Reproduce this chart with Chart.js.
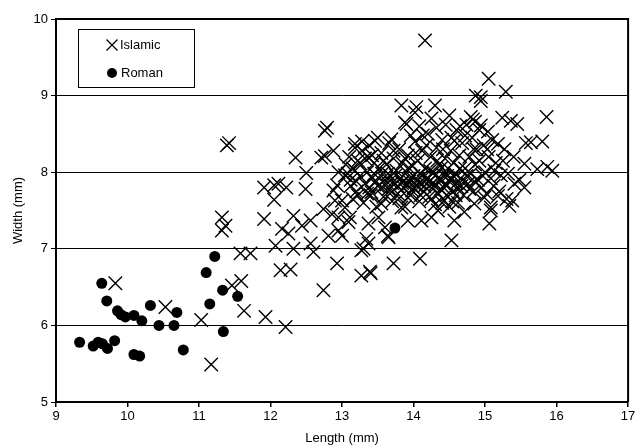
<!DOCTYPE html>
<html>
<head>
<meta charset="utf-8">
<script src="https://cdn.jsdelivr.net/npm/chart.js@4/dist/chart.umd.min.js"></script>
<style>
  html, body { margin: 0; padding: 0; background: #fff; }
  #wrap { width: 639px; height: 448px; }
</style>
</head>
<body>
<div id="wrap"><canvas id="grafico" width="639" height="448"></canvas></div>
<script>
// Roman (filled circles)
var romanLength = [9.33, 9.52, 9.59, 9.65, 9.72, 9.82, 9.64, 9.71, 9.86, 9.91, 9.97, 10.09, 10.20, 10.09, 10.17,
    10.32, 10.44, 10.65, 10.69, 10.78, 11.10, 11.15, 11.33, 11.34, 11.54, 11.22, 13.74];
var romanWidth = [5.78, 5.73, 5.78, 5.76, 5.70, 5.80, 6.55, 6.32, 6.19, 6.14, 6.11, 6.13, 6.06, 5.62, 5.60,
    6.26, 6.00, 6.00, 6.17, 5.68, 6.69, 6.28, 6.46, 5.92, 6.38, 6.90, 7.27];

// Islamic (crosses) - outer points
var islamicLength = [9.83, 10.53, 11.03, 11.17, 11.46, 11.59, 11.63, 11.42, 11.39, 11.32, 11.37, 11.32, 11.58, 11.72,
    11.93, 11.91, 12.05, 12.11, 12.22, 12.05, 11.91, 12.16, 12.25, 12.32, 12.07, 12.32, 12.14, 12.28, 12.35, 12.76,
    12.79, 12.71, 12.88, 12.50, 12.49, 12.44, 12.56, 12.56, 12.60, 12.93, 12.74, 13.27, 13.40, 13.27, 13.30, 13.34,
    12.81, 12.95, 12.86, 12.74, 13.00, 13.04, 13.11, 12.88, 12.93, 12.95, 13.18, 13.46, 13.72, 13.64, 14.16, 15.05,
    15.29, 15.86, 15.57, 15.64, 15.80, 15.94, 15.87, 15.73, 15.55, 15.38, 15.34, 15.08, 15.24, 15.36, 15.45, 15.18,
    15.27, 15.13, 15.22, 15.41, 14.99, 14.94, 14.94, 13.83, 14.04, 14.30, 14.87, 14.94, 14.83, 14.80, 14.86, 14.50,
    14.32, 13.90, 13.69, 14.13, 14.57, 15.04, 14.02, 13.88, 13.18, 13.37, 12.76, 13.04, 12.90, 12.95, 13.09, 13.00,
    13.37, 13.51, 13.41, 13.55, 13.83, 13.92, 13.65, 13.37, 14.53, 15.06, 14.57, 15.08, 14.71, 15.30, 14.85, 15.18,
    14.11, 14.25, 14.34, 14.43, 14.09, 13.39, 13.60, 13.92, 12.21,
    // dense core
    13.05, 13.12, 13.15, 13.20, 13.22, 13.25, 13.28, 13.30, 13.32, 13.35, 13.38, 13.40, 13.42, 13.45, 13.48, 13.50,
    13.52, 13.55, 13.58, 13.60, 13.62, 13.65, 13.66, 13.68, 13.70, 13.72, 13.74, 13.76, 13.78, 13.80, 13.82, 13.84,
    13.86, 13.88, 13.90, 13.92, 13.94, 13.96, 13.98, 14.00, 14.02, 14.04, 14.06, 14.08, 14.10, 14.12, 14.14, 14.16,
    14.18, 14.20, 14.22, 14.24, 14.26, 14.28, 14.30, 14.32, 14.34, 14.36, 14.38, 14.40, 14.42, 14.44, 14.46, 14.48,
    14.50, 14.52, 14.54, 14.56, 14.58, 14.60, 14.62, 14.64, 14.66, 14.68, 14.70, 14.72, 14.74, 14.76, 14.78, 14.80,
    14.82, 14.84, 14.86, 14.88, 14.90, 14.92, 14.95, 14.98, 15.00, 15.02, 15.05, 15.08, 15.10, 15.12, 15.15, 15.20,
    15.25, 15.32, 15.40, 15.48, 15.55,
    13.55, 13.62, 13.70, 13.78, 13.85, 13.92, 14.00, 14.08, 14.15, 14.22, 14.30, 14.38, 14.45, 14.52, 14.60, 14.12,
    14.20, 14.35, 14.42, 14.55, 13.98, 14.25, 14.40, 14.50, 14.62,
    13.08, 13.18, 13.25, 13.32, 13.12, 13.20, 13.45, 13.38,
    13.35, 13.42, 13.48, 13.58, 13.64, 13.72, 13.80, 13.88, 13.95, 14.03, 14.10, 14.18, 14.27, 14.33, 14.41, 14.47,
    14.53, 14.59, 14.65, 14.72, 14.78, 14.84, 14.92, 14.97, 15.03, 13.56, 13.67, 13.75, 13.84, 13.93, 14.05, 14.14,
    14.23, 14.31, 14.39, 14.46, 14.57, 14.67, 14.74, 14.85, 13.10, 13.22, 13.28, 13.15, 13.50, 13.96, 14.08, 14.65,
    14.45, 14.25];
var islamicWidth = [6.55, 6.24, 6.07, 5.49, 6.52, 6.58, 6.19, 8.38, 8.35, 7.41, 7.30, 7.24, 6.94, 6.94,
    6.11, 7.80, 7.83, 7.85, 7.80, 7.64, 7.39, 7.26, 7.20, 7.43, 7.04, 7.00, 6.72, 6.73, 8.19, 8.54,
    8.58, 8.19, 8.28, 7.99, 7.78, 7.30, 7.37, 7.07, 6.96, 6.81, 6.46, 6.65, 6.68, 6.98, 7.00, 7.13,
    7.17, 7.24, 7.45, 7.52, 7.63, 7.54, 7.41, 7.76, 7.83, 8.00, 8.32, 8.41, 6.81, 7.17, 9.72, 9.22,
    9.05, 8.72, 8.38, 8.39, 8.40, 8.02, 8.07, 8.04, 8.11, 7.63, 7.56, 7.54, 8.71, 8.67, 8.63, 8.37,
    8.30, 8.02, 7.96, 7.85, 7.67, 8.98, 8.61, 8.87, 8.85, 8.87, 9.00, 8.93, 8.69, 8.72, 8.66, 8.74,
    8.58, 8.63, 8.43, 8.48, 8.41, 8.53, 8.78, 8.65, 8.37, 8.19, 8.21, 7.96, 7.63, 7.41, 7.35, 7.17,
    7.33, 7.41, 7.74, 7.59, 7.54, 7.67, 7.15, 7.07, 7.11, 7.33, 7.37, 7.50, 7.48, 7.65, 7.59, 7.69,
    7.37, 7.41, 7.50, 7.63, 6.87, 6.70, 7.28, 7.37, 5.98,
    8.10, 7.90, 8.05, 7.75, 8.15, 7.95, 8.28, 7.60, 7.85, 8.00, 8.35, 7.70, 7.92, 8.12, 7.55, 7.82,
    8.05, 8.25, 7.68, 7.90, 8.10, 7.78, 8.38, 7.95, 7.62, 8.18, 7.85, 8.02, 7.72, 8.30, 7.92, 8.12,
    7.80, 7.55, 8.00, 8.22, 7.88, 7.70, 8.08, 7.95, 8.40, 7.82, 8.15, 7.62, 7.98, 8.28, 7.75, 8.05,
    7.90, 8.50, 7.68, 8.20, 7.85, 8.00, 7.58, 8.32, 7.92, 8.10, 7.78, 8.42, 7.96, 8.18, 7.70, 8.05,
    7.88, 8.28, 7.62, 8.12, 7.98, 8.55, 7.80, 8.22, 7.92, 8.38, 7.70, 8.05, 8.62, 7.85, 8.20, 7.98,
    8.45, 7.75, 8.10, 8.30, 7.90, 8.15, 7.80, 8.35, 8.00, 7.72, 8.20, 7.92, 8.42, 7.82, 8.12, 7.75,
    8.15, 7.98, 8.20, 7.90, 7.80,
    7.80, 7.84, 7.86, 7.82, 7.88, 7.84, 7.80, 7.86, 7.82, 7.88, 7.84, 7.90, 7.85, 7.92, 7.86, 7.95,
    7.92, 7.72, 7.80, 7.75, 7.76, 7.65, 7.60, 7.55, 7.60,
    7.98, 8.02, 8.12, 8.18, 7.82, 7.88, 7.98, 7.80,
    7.72, 8.22, 7.88, 8.15, 7.98, 8.28, 7.66, 8.18, 7.92, 8.25, 7.70, 8.35, 7.78, 8.15, 8.30, 7.95,
    8.45, 7.70, 8.05, 8.48, 7.78, 8.30, 8.55, 7.95, 8.30, 7.98, 7.72, 7.96, 7.86, 8.06, 7.90, 7.88,
    8.02, 7.96, 8.06, 7.82, 7.94, 7.82, 7.95, 7.88, 8.20, 7.70, 8.40, 7.65, 8.45, 8.48, 8.60, 8.60,
    8.62, 8.70];

var xTicks = [9, 10, 11, 12, 13, 14, 15, 16, 17];
var yTicks = [5, 6, 7, 8, 9, 10];
var fonte = "'Liberation Sans', Arial, sans-serif";

function juntar(xs, ys) {
    var pontos = [];
    for (var i = 0; i < xs.length; i++) {
        pontos.push({ x: xs[i], y: ys[i] });
    }
    return pontos;
}

// moldura do gráfico e legenda dentro da área
var molduraLegenda = {
    id: 'molduraLegenda',
    afterDraw: function (chart) {
        var ctx = chart.ctx;
        var a = chart.chartArea;
        ctx.save();
        ctx.strokeStyle = '#000';
        ctx.lineWidth = 2;
        ctx.beginPath();
        ctx.moveTo(a.left, a.top);
        ctx.lineTo(a.right, a.top);
        ctx.lineTo(a.right, a.bottom);
        ctx.stroke();

        // caixa da legenda
        ctx.lineWidth = 1;
        ctx.strokeRect(78.5, 29.5, 116, 58);
        // X
        ctx.lineWidth = 1.3;
        ctx.beginPath();
        ctx.moveTo(106.5, 39.5); ctx.lineTo(117.5, 50.5);
        ctx.moveTo(117.5, 39.5); ctx.lineTo(106.5, 50.5);
        ctx.stroke();
        // circulo
        ctx.fillStyle = '#000';
        ctx.beginPath();
        ctx.arc(112, 73, 5, 0, Math.PI * 2);
        ctx.fill();
        ctx.font = '13px ' + fonte;
        ctx.textBaseline = 'middle';
        ctx.textAlign = 'left';
        ctx.fillText(chart.data.datasets[0].label, 120, 45);
        ctx.fillText(chart.data.datasets[1].label, 121, 73);
        ctx.restore();
    }
};

var config = {
    type: 'scatter',
    data: {
        datasets: [{
            label: 'Islamic',
            data: juntar(islamicLength, islamicWidth),
            pointStyle: 'crossRot',
            pointRadius: 9.5,
            borderColor: '#000',
            backgroundColor: 'rgba(0,0,0,0)',
            borderWidth: 1.4
        }, {
            label: 'Roman',
            data: juntar(romanLength, romanWidth),
            pointStyle: 'circle',
            pointRadius: 5.5,
            borderColor: '#000',
            backgroundColor: '#000',
            borderWidth: 0
        }]
    },
    options: {
        responsive: false,
        animation: false,
        layout: { padding: { top: 19, right: 8, left: 0, bottom: 0 } },
        plugins: {
            legend: { display: false },
            tooltip: { enabled: false }
        },
        scales: {
            x: {
                type: 'linear',
                min: 9,
                max: 17,
                afterBuildTicks: function (s) { s.ticks = xTicks.map(function (v) { return { value: v }; }); },
                afterFit: function (s) { s.height = 46; s.paddingRight = 0; s.paddingLeft = 0; },
                ticks: { color: '#000', font: { family: fonte, size: 13 }, padding: 2, maxRotation: 0 },
                grid: { drawOnChartArea: false, drawTicks: true, tickLength: 5, color: '#000', lineWidth: 1.5 },
                border: { color: '#000', width: 2 },
                title: { display: true, text: 'Length (mm)', color: '#000', font: { family: fonte, size: 13 }, padding: { top: 0, bottom: 2 } }
            },
            y: {
                type: 'linear',
                min: 5,
                max: 10,
                afterBuildTicks: function (s) { s.ticks = yTicks.map(function (v) { return { value: v }; }); },
                afterFit: function (s) { s.width = 56; },
                ticks: { color: '#000', font: { family: fonte, size: 13 }, padding: 3 },
                grid: { color: '#000', lineWidth: 1, drawTicks: true, tickLength: 5 },
                border: { color: '#000', width: 2 },
                title: { display: true, text: 'Width (mm)', color: '#000', font: { family: fonte, size: 13 }, padding: { top: 11, bottom: 0 } }
            }
        }
    },
    plugins: [molduraLegenda]
};

var ctx = document.getElementById('grafico').getContext('2d');
window.graficoDispersao = new Chart(ctx, config);
</script>
</body>
</html>
